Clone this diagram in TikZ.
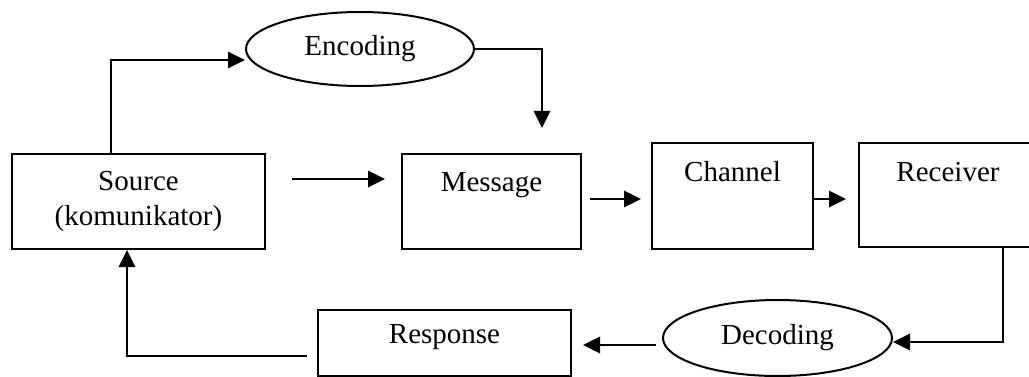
\documentclass[tikz,border=0pt]{standalone}
\usepackage{fontspec}
\setmainfont{Liberation Serif}
\usetikzlibrary{arrows.meta,shapes.geometric}
\tikzset{
  txt/.style={font=\fontsize{29}{35}\selectfont},
  box/.style={draw, line width=2pt, inner sep=0pt, txt},
  oval/.style={draw, ellipse, line width=2pt, inner sep=0pt, txt},
  arr/.style={line width=2.8pt, -{Triangle[length=17pt,width=16pt]}}
}
\begin{document}
\begin{tikzpicture}[x=1pt,y=-1pt]
\useasboundingbox (0,0) rectangle (1029,377);
% boxes
\node[box, align=center, minimum width=253pt, minimum height=95pt] (src) at (138.5,201.5) {Source\\(komunikator)};
\node[box, anchor=base, minimum width=179pt, text height=38pt, text depth=57pt] (msg) at (491.5,192) {Message};
\node[box, anchor=base, minimum width=161pt, text height=39pt, text depth=67pt] (ch) at (732.5,182) {Channel};
\node[box, anchor=base, minimum width=178pt, text height=39pt, text depth=65pt] (rec) at (948,182) {Receiver};
\node[box, anchor=base, minimum width=253pt, text height=33pt, text depth=33pt] (resp) at (444.5,343) {Response};
% ellipses
\node[oval, minimum width=228pt, minimum height=74pt] (enc) at (360,49) {Encoding};
\node[oval, minimum width=229pt, minimum height=76pt] (dec) at (777.5,338) {Decoding};
\coordinate (encend) at (542,128);
% connectors
\draw[arr] ([xshift=-27.5pt]src.north) |- ([yshift=-11pt]enc.west);
\draw[arr] (enc.east) -| (encend);
\draw[arr, shorten <=26pt, shorten >=16pt] ([yshift=22.5pt]src.east) -- ([yshift=22.5pt]src.east -| msg.west);
\draw[arr, shorten <=8pt, shorten >=10pt] ([yshift=2.5pt]msg.east) -- ([yshift=2.5pt]msg.east -| ch.west);
\draw[arr, shorten >=12pt] ([yshift=-3pt]ch.east) -- ([yshift=-3pt]ch.east -| rec.west);
\draw[arr] ([xshift=55pt]rec.south) |- ([yshift=-4pt]dec.east);
\draw[arr, shorten <=6pt, shorten >=11pt] ([yshift=-7pt]dec.west) -- ([yshift=-7pt]dec.west -| resp.east);
\draw[arr, shorten <=10pt] ([yshift=-13pt]resp.west) -| ([xshift=-11.5pt]src.south);
\end{tikzpicture}
\end{document}
